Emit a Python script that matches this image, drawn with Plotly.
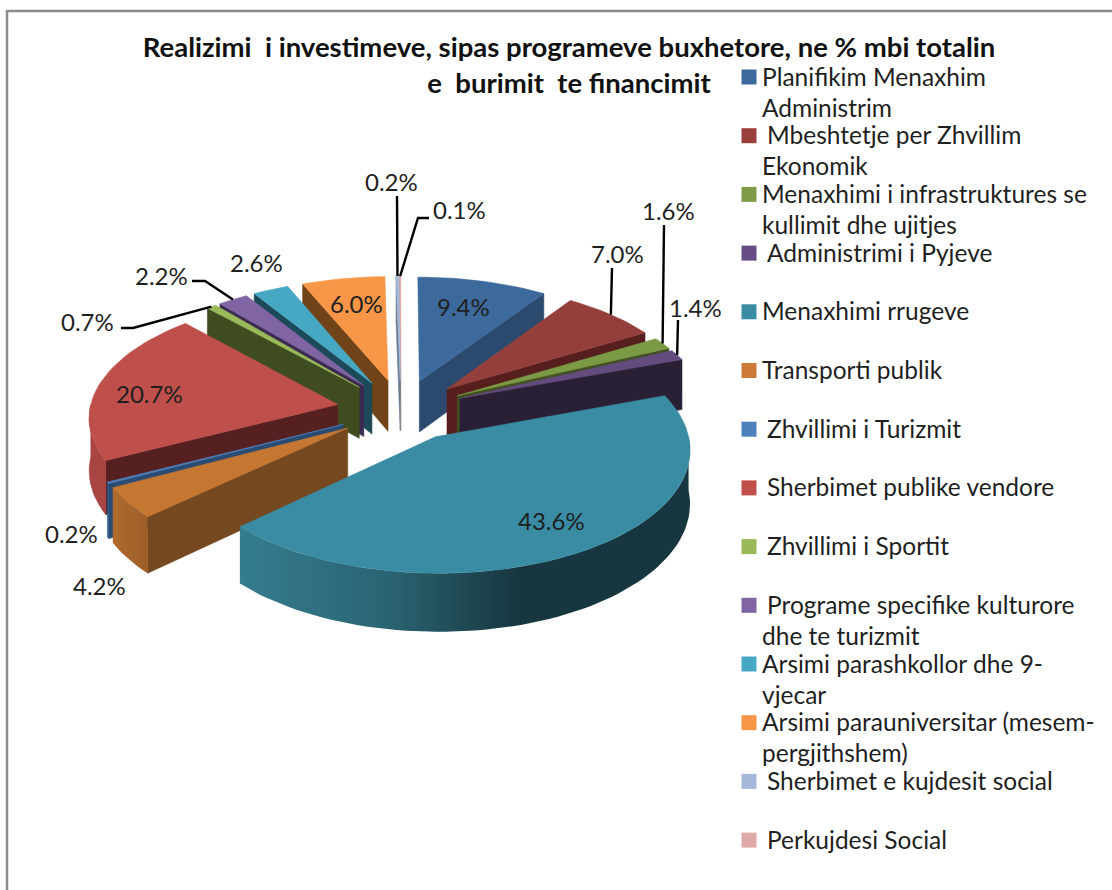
import math
import plotly.graph_objects as go

# ---- data ----
categories = [
    "Planifikim Menaxhim|Administrim", " Mbeshtetje per Zhvillim|Ekonomik",
    "Menaxhimi i infrastruktures se|kullimit dhe ujitjes", " Administrimi i Pyjeve",
    "Menaxhimi rrugeve", "Transporti publik", " Zhvillimi i Turizmit",
    " Sherbimet publike vendore", " Zhvillimi i Sportit",
    " Programe specifike kulturore|dhe te turizmit", "Arsimi parashkollor dhe 9-|vjecar",
    "Arsimi parauniversitar (mesem-|pergjithshem)", " Sherbimet e kujdesit social",
    " Perkujdesi Social",
]
values = [9.4, 7.0, 1.6, 1.4, 43.6, 4.2, 0.2, 20.7, 0.7, 2.2, 2.6, 6.0, 0.2, 0.1]
top_colors = ["#3D6A9C", "#953F3C", "#7A9A45", "#634B80", "#398CA3", "#C57732", "#4D81BC",
              "#BE4F4B", "#9ABA59", "#8064A3", "#47A8C4", "#F79646", "#A5B8DA", "#DFA9A7"]
face_colors = ["#2B4A6E", "#561F1D", "#414F22", "#2A2035", "#2F7488", "#754820", "#2A4C73",
               "#562020", "#3F4C20", "#3C2A50", "#1D4A59", "#704318", "#6B7A90", "#9A7A78"]
wall_colors = ["#2E5A8E", "#7A3230", "#63803A", "#503C68", "#2F7488", "#AD672B", "#2E5A8E",
               "#A84543", "#7E9A48", "#684F88", "#2F7A90", "#C87838", "#8090B0", "#B08A88"]
legend_colors = ["#3D6A9C", "#9A3F3C", "#7E9C45", "#664B85", "#398CA3", "#CC7A36", "#4D81BC",
                 "#BE4F4B", "#9ABA59", "#8064A3", "#47A8C4", "#F79646", "#A5B8DA", "#DFA9A7"]
title_lines = ["Realizimi\u00a0\u00a0i investimeve, sipas programeve buxhetore, ne % mbi totalin",
               "e\u00a0\u00a0burimit\u00a0\u00a0te financimit"]

# ---- layout of the drawing (pixel-like axis units) ----
CX, CY, RX, RY, PERSP, DEPTH, EXPLODE = 401, 410, 248, 118.6, 0.092, 52, 0.26
label_pos = [(463, 306), (617, 253), (668, 210), (695, 307), (551, 520), (99, 585), (71, 533),
             (149, 393), (87, 321), (161, 275), (256, 262), (356, 303), (391, 181), (459, 209)]
# leader: label-side points; the last point is taken from the slice's outer arc
leaders = {1: [(612, 268)], 2: [(664, 225)], 3: [(678, 320)], 12: [(397, 196)],
           13: [(429, 218), (418, 218)], 9: [(192, 281), (205, 281)], 8: [(121, 328), (133, 328)]}
FONT = "Lato"
TXT = "#1f1f1f"


def project(X, Y, z=0.0):
    s = 1 / (1 + PERSP * Y)
    return CX + RX * X * s, CY + (z - RY * Y) * s


total = sum(values)
bounds = [0.0]
for v in values:
    bounds.append(bounds[-1] + v / total * 2 * math.pi)


def arc(t0, t1):
    n = max(2, int(abs(t1 - t0) / math.radians(2)) + 1)
    return [t0 + (t1 - t0) * i / (n - 1) for i in range(n)]


def poly(pts, color, gradient=None):
    kw = dict(fill="toself", mode="lines", line=dict(width=0.6, color=color), fillcolor=color,
              hoverinfo="skip", showlegend=False)
    if gradient:
        kw["fillgradient"] = dict(type="horizontal", colorscale=gradient)
        kw["line"] = dict(width=0)
        kw.pop("fillcolor")
    return go.Scatter(x=[p[0] for p in pts], y=[p[1] for p in pts], **kw)


fig = go.Figure()
mids = [(bounds[i] + bounds[i + 1]) / 2 for i in range(len(values))]
order = sorted(range(len(values)), key=lambda i: -math.cos(mids[i]))
gradients = {4: [[0, "#357C90"], [0.33, "#2A6472"], [0.62, "#17363F"], [1, "#17363F"]],
             5: [[0, "#B06A2C"], [1, "#9C5E28"]]}

for i in order:
    t0, t1, m = bounds[i], bounds[i + 1], mids[i]
    ox, oy = EXPLODE * math.sin(m), EXPLODE * math.cos(m)
    pt = lambda t, z=0.0: project(ox + math.sin(t), oy + math.cos(t), z)
    apex_top, apex_bot = project(ox, oy), project(ox, oy, DEPTH)
    # radial faces turned towards the viewer
    if math.sin(t0) < 0:
        fig.add_trace(poly([apex_top, pt(t0), pt(t0, DEPTH), apex_bot, apex_top], face_colors[i]))
    if math.sin(t1) > 0:
        fig.add_trace(poly([apex_top, pt(t1), pt(t1, DEPTH), apex_bot, apex_top], face_colors[i]))
    # outer wall, front half only
    a, b = max(t0, math.pi / 2), min(t1, 3 * math.pi / 2)
    if b > a:
        ts = arc(a, b)
        pts = [pt(t) for t in ts] + [pt(t, DEPTH) for t in reversed(ts)]
        fig.add_trace(poly(pts + pts[:1], wall_colors[i], gradients.get(i)))
    # top surface
    top = [apex_top] + [pt(t) for t in arc(t0, t1)] + [apex_top]
    fig.add_trace(poly(top, top_colors[i]))

# leader lines
for i, pts in leaders.items():
    m = mids[i]
    ox, oy = EXPLODE * math.sin(m), EXPLODE * math.cos(m)
    end = project(ox + math.sin(m), oy + math.cos(m))
    full = pts + [end]
    fig.add_trace(go.Scatter(x=[p[0] for p in full], y=[p[1] for p in full], mode="lines",
                             line=dict(color="black", width=2.4), hoverinfo="skip", showlegend=False))

annotations = []
for v, (x, y) in zip(values, label_pos):
    annotations.append(dict(x=x, y=y, text=f"{v:.1f}%", showarrow=False, xanchor="center", yanchor="middle",
                            font=dict(family=FONT, size=24, color=TXT)))

# legend
LEG_X, LEG_TOP, LEG_STEP, LINE_STEP = 749, 77, 58.7, 31
fig.add_trace(go.Scatter(x=[LEG_X] * len(categories), y=[LEG_TOP + LEG_STEP * i for i in range(len(categories))],
                         mode="markers", marker=dict(symbol="square", size=15, color=legend_colors),
                         hoverinfo="skip", showlegend=False))
for i, c in enumerate(categories):
    for j, line in enumerate(c.split("|")):
        indent = line.startswith(" ")
        annotations.append(dict(x=765 if indent else 760, y=LEG_TOP + LEG_STEP * i + j * LINE_STEP - 1,
                                text=line.strip(), showarrow=False, xanchor="left", yanchor="middle",
                                font=dict(family=FONT, size=24.5, color=TXT)))

fig.update_layout(
    width=1112, height=890, margin=dict(l=0, r=0, t=0, b=0),
    paper_bgcolor="white", plot_bgcolor="white",
    xaxis=dict(range=[0, 1112], visible=False, fixedrange=True),
    yaxis=dict(range=[890, 0], visible=False, fixedrange=True),
    title=dict(text="<br>".join(title_lines), x=569 / 1112, xanchor="center", y=1 - 57 / 890, yanchor="top",
               font=dict(family=FONT, size=27.5, color="#111111", weight="bold")),
    annotations=annotations,
    shapes=[dict(type="line", xref="x", yref="y", x0=7, y0=11, x1=1112, y1=11,
                 line=dict(color="#8c8c8c", width=2.5), layer="below"),
            dict(type="line", xref="x", yref="y", x0=7, y0=10, x1=7, y1=890,
                 line=dict(color="#8c8c8c", width=2.5), layer="below")],
)
fig.write_html("out.html", post_script="document.body.style.margin='0';",
               config={"displayModeBar": False})
